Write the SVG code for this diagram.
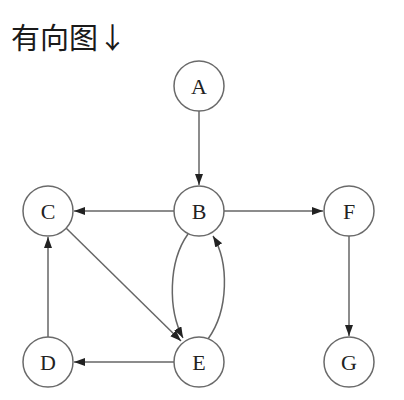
<svg xmlns="http://www.w3.org/2000/svg" width="404" height="400" viewBox="0 0 404 400">
<style>
.node circle{fill:#fff;stroke:#6a6a6a;stroke-width:1.5}
.node text{font-family:"Liberation Serif",serif;font-size:22px;fill:#222;text-anchor:middle}
.edge{fill:none;stroke:#666;stroke-width:1.5;marker-end:url(#arr)}
.title{font-family:"Noto Sans CJK SC","Noto Sans",sans-serif;font-size:29px;fill:#1a1a1a}
</style>
<defs>
<marker id="arr" markerUnits="userSpaceOnUse" markerWidth="12" markerHeight="9" refX="11" refY="4" orient="auto">
<path d="M0,0 L11,4 L0,8 z" fill="#222"/>
</marker>
</defs>
<rect width="404" height="400" fill="#fff"/>
<text class="title" x="11" y="49">有向图↓</text>
<g id="edges">
<path class="edge" d="M199,111 L199,185"/>
<path class="edge" d="M174,211 L74,211"/>
<path class="edge" d="M224,211 L323,211"/>
<path class="edge" d="M349,236 L349,336"/>
<path class="edge" d="M174,362 L74,362"/>
<path class="edge" d="M48,337 L48,237"/>
<path class="edge" d="M66,228 L181,341"/>
<path class="edge" d="M188,234 C168,262 168,310 183,338"/>
<path class="edge" d="M208,339 C229,310 229,262 213,236"/>
</g>
<g id="A" class="node"><circle cx="199" cy="86" r="25"/><text x="199" y="94">A</text></g>
<g id="B" class="node"><circle cx="199" cy="211" r="25"/><text x="199" y="219">B</text></g>
<g id="C" class="node"><circle cx="48" cy="211" r="25"/><text x="48" y="219">C</text></g>
<g id="F" class="node"><circle cx="349" cy="211" r="25"/><text x="349" y="219">F</text></g>
<g id="D" class="node"><circle cx="48" cy="362" r="25"/><text x="48" y="370">D</text></g>
<g id="E" class="node"><circle cx="199" cy="362" r="25"/><text x="199" y="370">E</text></g>
<g id="G" class="node"><circle cx="349" cy="362" r="25"/><text x="349" y="370">G</text></g>
</svg>
